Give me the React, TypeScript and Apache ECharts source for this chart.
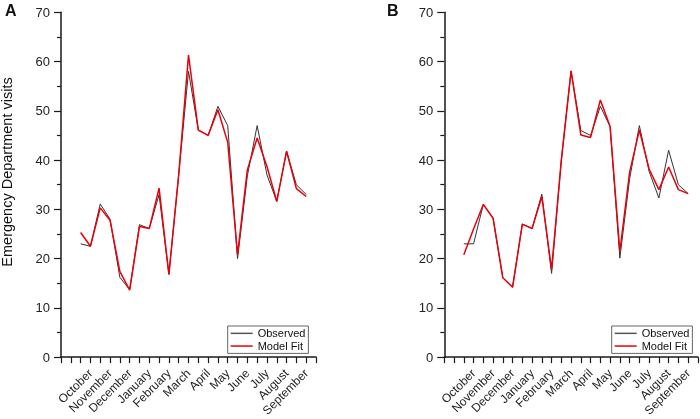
import React, { useEffect, useRef } from "react";
import * as echarts from "echarts";

const monthLabels = ["October", "November", "December", "January", "February", "March", "April", "May", "June", "July", "August", "September"];
const firstLabelPos = 3;
const labelStep = 2;
const firstPointPos = 2;
const xMax = 26;

const observedA = [23, 22.5, 31.1, 28.0, 16.2, 13.7, 26.9, 26.1, 33.0, 16.8, 37, 58.0, 46.1, 45.0, 50.9, 47.0, 20.0, 36.8, 47.0, 37.0, 31.6, 41.8, 35.0, 33.0];
const fitA = [25.3, 22.5, 30.3, 27.8, 17.4, 13.6, 26.5, 26.1, 34.3, 16.8, 37, 61.3, 46.1, 45.0, 50.2, 43.6, 20.8, 38.0, 44.5, 38.7, 31.6, 41.8, 34.2, 32.6];
const observedB = [23.0, 23.0, 31.0, 28.2, 16.1, 14.2, 27.0, 26.1, 33.1, 17.0, 40, 58.1, 46.0, 45.0, 50.9, 46.8, 20.1, 36.2, 47.0, 37.7, 32.3, 42.0, 35.0, 33.2];
const fitB = [20.8, 26.0, 31.0, 28.2, 16.1, 14.2, 27.0, 26.1, 32.6, 17.8, 40, 58.1, 45.1, 44.6, 52.2, 46.8, 21.5, 37.5, 46.1, 38.2, 34.0, 38.6, 34.0, 33.2];

const FONT = "'Liberation Sans', Arial, sans-serif";

function pairs(vals: number[]) {
  return vals.map((v, i) => [i + firstPointPos, v]);
}

function xLabel(v: number) {
  const k = (v - firstLabelPos) / labelStep;
  if (Number.isInteger(k) && k >= 0 && k < monthLabels.length) return monthLabels[k];
  return "";
}

export default function App() {
  const ref = useRef<HTMLDivElement>(null);
  useEffect(() => {
    if (!ref.current) return;
    const chart = echarts.init(ref.current, undefined, { renderer: "svg" });
    const grids = [
      { left: 61, top: 12.3, width: 255, height: 345.4 },
      { left: 444.3, top: 12.3, width: 254.4, height: 345.4 },
    ];
    const xAxes = grids.map((_, gi) => ({
      type: "value",
      gridIndex: gi,
      min: 0,
      max: xMax,
      interval: 1,
      splitLine: { show: false },
      axisLine: { lineStyle: { color: "#1a1a1a", width: 1.5 } },
      axisTick: { length: 6, lineStyle: { color: "#1a1a1a", width: 1.2 } },
      axisLabel: {
        formatter: xLabel,
        rotate: 45,
        margin: 14,
        fontSize: 12,
        color: "#222",
        fontFamily: FONT,
      },
    }));
    const yAxes = grids.map((_, gi) => ({
      type: "value",
      gridIndex: gi,
      min: 0,
      max: 70,
      interval: 10,
      splitLine: { show: false },
      axisLine: { show: true, lineStyle: { color: "#1a1a1a", width: 1.5 } },
      axisTick: { show: true, length: 7, lineStyle: { color: "#1a1a1a", width: 1.2 } },
      minorTick: { show: true, splitNumber: 2, length: 4, lineStyle: { color: "#1a1a1a", width: 1.2 } },
      axisLabel: { fontSize: 13, color: "#222", margin: 11, fontFamily: FONT },
    }));
    const mkSeries = (name: string, vals: number[], gi: number, color: string, width: number) => ({
      name,
      type: "line",
      xAxisIndex: gi,
      yAxisIndex: gi,
      data: pairs(vals),
      symbol: "none",
      lineStyle: { color, width },
      itemStyle: { color },
    });
    const mkLegend = (left: number) => ({
      orient: "vertical",
      left,
      top: 326,
      data: [
        { name: "Observed", icon: "rect", itemStyle: { color: "#555555" } },
        { name: "Model Fit", icon: "rect", itemStyle: { color: "#e8000b" } },
      ],
      itemWidth: 22,
      itemHeight: 1.5,
      itemGap: 0,
      padding: [1, 3, 1, 3],
      borderColor: "#666",
      borderWidth: 1,
      textStyle: { fontSize: 11, lineHeight: 12.7, color: "#111", fontFamily: FONT },
    });
    chart.setOption({
      animation: false,
      textStyle: { fontFamily: FONT },
      grid: grids,
      xAxis: xAxes,
      yAxis: yAxes,
      legend: [mkLegend(227.7), mkLegend(611.7)],
      series: [
        mkSeries("Observed", observedA, 0, "#333333", 1),
        mkSeries("Model Fit", fitA, 0, "#e8000b", 1.5),
        mkSeries("Observed", observedB, 1, "#333333", 1),
        mkSeries("Model Fit", fitB, 1, "#e8000b", 1.5),
      ],
      graphic: [
        { type: "text", left: 5, top: 2, style: { text: "A", fontSize: 16, fontWeight: "bold", fill: "#111", fontFamily: FONT } },
        { type: "text", left: 387, top: 2, style: { text: "B", fontSize: 16, fontWeight: "bold", fill: "#111", fontFamily: FONT } },
        {
          type: "text",
          x: 7,
          y: 172,
          rotation: Math.PI / 2,
          style: {
            text: "Emergency Department visits",
            fontSize: 14.5,
            fill: "#111",
            fontFamily: FONT,
            align: "center",
            verticalAlign: "middle",
          },
        },
      ],
    });
    return () => chart.dispose();
  }, []);
  return <div ref={ref} style={{ position: "fixed", left: 0, top: 0, width: 700, height: 419 }} />;
}
